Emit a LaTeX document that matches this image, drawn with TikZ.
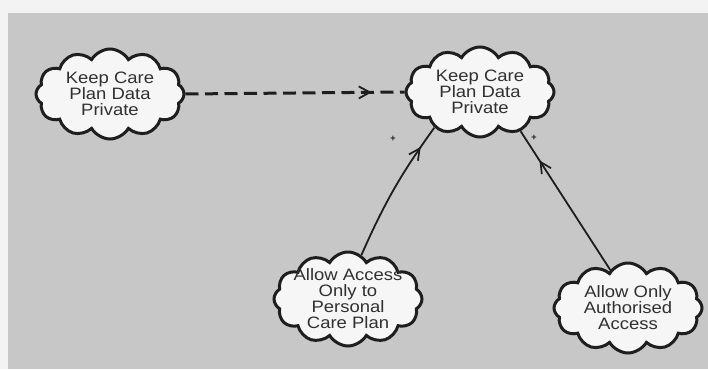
\documentclass[tikz,border=0pt]{standalone}
\usepackage{fontspec}
\newfontfamily\cloudfont[FakeStretch=1.12]{Liberation Sans}
\newfontfamily\signfont{Liberation Sans}
\usetikzlibrary{shapes.symbols,arrows.meta,decorations.markings}
\definecolor{paper}{RGB}{243,243,243}
\definecolor{panel}{RGB}{199,199,199}
\definecolor{ink}{RGB}{30,30,30}
\definecolor{txt}{RGB}{48,48,48}
\definecolor{puff}{RGB}{246,246,246}

\begin{document}
\begin{tikzpicture}[x=1pt,y=-1pt,
  goal/.style={cloud, cloud puffs=12, cloud puff arc=120, cloud ignores aspect,
    draw=ink, line width=3pt, fill=puff, inner sep=0pt,
    minimum width=148pt, minimum height=90pt},
  goaltext/.style={font=\cloudfont\fontsize{16.5}{16}\selectfont,
    text=txt, align=center, inner sep=0pt},
  signlabel/.style={font=\signfont\bfseries\fontsize{9}{9}\selectfont, text=ink, inner sep=0pt},
  contrib/.style={draw=ink, line width=1.8pt, postaction={decorate},
    decoration={markings, mark=at position #1 with
      {\arrow{Straight Barb[length=11pt,width=11pt,line width=1.7pt]}}}},
  refines/.style={draw=ink, line width=3pt, dash pattern=on 13pt off 6.5pt,
    postaction={decorate},
    decoration={markings, mark=at position #1 with
      {\arrow{Straight Barb[length=11pt,width=12pt,line width=1.8pt]}}}}
]
  % page and diagram panel
  \fill[paper] (0,0) rectangle (708,369);
  \fill[panel] (8,13) rectangle (708,369);
  \useasboundingbox (0,0) rectangle (708,369);

  % goals
  \node[goal] (c1) at (110,94) {};
  \node[goal] (c2) at (480,92) {};
  \node[goal, minimum height=94pt] (c3) at (348,299) {};
  \node[goal] (c4) at (628,308) {};

  \node[goaltext] (c1t) at (c1) {Keep Care\\Plan Data\\Private};
  \node[goaltext] (c2t) at (c2) {Keep Care\\Plan Data\\Private};
  \node[goaltext] (c3t) at (c3) {Allow Access\\Only to\\Personal\\Care Plan};
  \node[goaltext] (c4t) at (c4) {Allow Only\\Authorised\\Access};

  % links
  \draw[refines=0.85] (c1.east) -- (c2.west);
  \draw[contrib=0.84] (c3.73) to[bend left=6] (c2.218);
  \draw[contrib=0.79] (c4.115) -- (c2.-44);

  % contribution signs
  \node[signlabel] (s1) at (393,139) {+};
  \node[signlabel] (s2) at (534,138) {+};
\end{tikzpicture}
\end{document}
